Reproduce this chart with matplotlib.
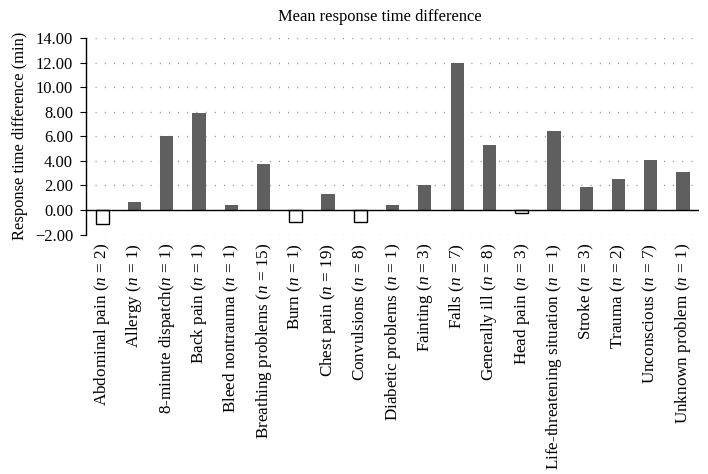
import numpy as np
import matplotlib
matplotlib.use("Agg")
import matplotlib.pyplot as plt

plt.rcParams['font.family'] = 'Liberation Serif'
plt.rcParams['mathtext.fontset'] = 'custom'
plt.rcParams['mathtext.rm'] = 'Liberation Serif'
plt.rcParams['mathtext.it'] = 'Liberation Serif:italic'

categories = ["Abdominal pain", "Allergy", "8-minute dispatch", "Back pain",
              "Bleed nontrauma", "Breathing problems", "Burn", "Chest pain",
              "Convulsions", "Diabetic problems", "Fainting", "Falls",
              "Generally ill", "Head pain", "Life-threatening situation",
              "Stroke", "Trauma", "Unconscious", "Unknown problem"]
counts = [2, 1, 1, 1, 1, 15, 1, 19, 8, 1, 3, 7, 8, 3, 1, 3, 2, 7, 1]
values = [-1.17, 0.62, 6.03, 7.86, 0.40, 3.78, -0.95, 1.28, -0.98, 0.38,
          2.04, 11.97, 5.30, -0.27, 6.39, 1.85, 2.53, 4.05, 3.10]
yticks = [-2, 0, 2, 4, 6, 8, 10, 12, 14]

labels = []
for c, n in zip(categories, counts):
    sep = "" if c == "8-minute dispatch" else " "
    labels.append(c + sep + r"($\mathit{n}$ = %d)" % n)

fig = plt.figure(figsize=(7.08, 4.74), dpi=100)
ax = fig.add_axes([0.1215, 0.505, 0.866, 0.415])

x = np.arange(len(categories))
for xi, v in zip(x, values):
    if v >= 0:
        ax.bar(xi, v, width=0.41, color="#5f5f5f", edgecolor="none", zorder=3)
    else:
        ax.bar(xi, v, width=0.41, color="white", edgecolor="black",
               linewidth=1.0, zorder=3)

ax.axhline(0, color="black", linewidth=1.0, zorder=4)
ax.set_xlim(-0.5, len(categories) - 0.5)
ax.set_ylim(-2, 14)
ax.set_yticks(yticks)
ax.set_yticklabels([("%.2f" % t).replace("-", "\u2212") for t in yticks], fontsize=11.9)
ax.yaxis.grid(True, linestyle=(0, (0.6, 6)), color="#777777", linewidth=1.0, zorder=0)

ax.set_xticks(x)
ax.set_xticklabels(labels, rotation=90, fontsize=12.3)
ax.tick_params(axis="x", length=0, pad=6)
ax.tick_params(axis="y", length=4.3, width=0.8, pad=5)

for s in ["top", "right", "bottom"]:
    ax.spines[s].set_visible(False)
ax.spines["left"].set_linewidth(1.0)

ax.set_ylabel("Response time difference (min)", fontsize=11.9)
ax.yaxis.set_label_coords(-0.095, 0.5)
fig.text(0.537, 0.965, "Mean response time difference", ha="center",
         va="center", fontsize=11.9)

fig.savefig("out.png", dpi=100)
